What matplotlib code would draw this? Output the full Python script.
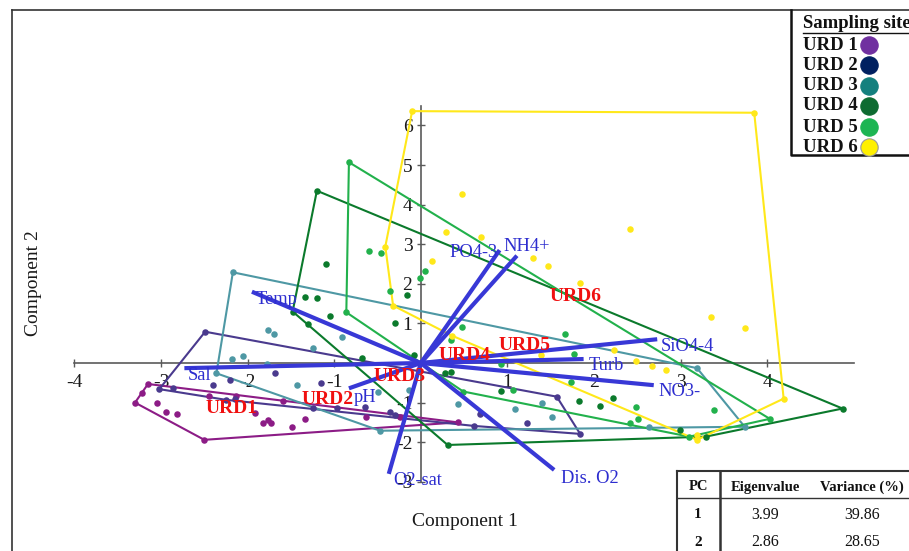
import matplotlib
matplotlib.use("Agg")
import matplotlib.pyplot as plt
from matplotlib.lines import Line2D

plt.rcParams['font.family'] = ['Liberation Serif', 'DejaVu Serif']
plt.rcParams['axes.unicode_minus'] = False

# ---------------- data ----------------
sites = ["URD 1", "URD 2", "URD 3", "URD 4", "URD 5", "URD 6"]
site_tags = ["URD1", "URD2", "URD3", "URD4", "URD5", "URD6"]

urd1_x = [-3.30, -3.15, -3.22, -3.05, -2.94, -2.82, -2.50, -2.44, -2.13, -1.91,
          -1.82, -1.76, -1.73, -1.49, -1.34, -1.59, -0.63, -0.24, 0.43]
urd1_y = [-1.00, -0.53, -0.77, -1.00, -1.24, -1.30, -1.94, -0.83, -0.83, -1.26,
          -1.51, -1.44, -1.51, -1.61, -1.42, -0.96, -1.36, -1.36, -1.50]

urd2_x = [-2.49, -3.02, -2.86, -2.40, -2.20, -1.68, -1.15, -2.25, -2.15, -1.24,
          -0.97, -0.65, -0.36, -0.30, 0.62, 0.68, 1.23, 1.57, 1.84]
urd2_y = [0.79, -0.66, -0.64, -0.56, -0.43, -0.26, -0.51, -0.93, -0.91, -1.14,
          -1.14, -1.10, -1.23, -1.31, -1.59, -1.29, -1.51, -0.85, -1.79]

urd3_x = [-2.17, 3.19, 3.74, -0.47, -2.36, -1.77, -1.70, -1.24, -0.91, -2.18,
          -2.05, -1.78, -1.43, -0.49, -0.14, 0.43, 1.09, 1.40, 1.51, 2.63]
urd3_y = [2.29, -0.13, -1.61, -1.71, -0.26, 0.83, 0.73, 0.37, 0.66, 0.09,
          0.18, -0.03, -0.56, -0.72, -0.68, -1.04, -1.17, -1.00, -1.37, -1.62]

urd4_x = [-1.20, -1.48, 0.31, 3.29, 4.87, -1.10, -1.34, -1.20, -0.16, -1.05,
          -1.30, -0.30, -0.68, -0.08, 0.28, 0.35, 0.93, 1.83, 2.07, 2.22, 2.99]
urd4_y = [4.35, 1.30, -2.07, -1.86, -1.15, 2.49, 1.67, 1.65, 1.72, 1.19,
          0.98, 1.02, 0.12, 0.20, -0.24, -0.22, -0.71, -0.96, -1.09, -0.88, -1.69]

urd5_x = [-0.83, -0.86, 0.49, 3.10, 4.03, -0.60, -0.46, -0.36, 0.05, -0.01,
          0.48, 0.35, 1.66, 1.77, 0.93, 1.74, 1.07, 2.48, 2.51, 2.42, 3.39]
urd5_y = [5.07, 1.28, -0.72, -1.86, -1.41, 2.84, 2.79, 1.82, 2.32, 2.15,
          0.90, 0.58, 0.73, 0.22, -0.03, -0.49, -0.68, -1.10, -1.41, -1.52, -1.19]

urd6_x = [-0.10, 3.85, 4.19, 3.19, 3.19, -0.32, -0.41, 0.47, 0.29, 0.70, 0.13,
          1.30, 1.47, 2.42, 1.84, 3.35, 3.74, 2.23, 2.49, 2.67, 2.83, 1.39, 0.36]
urd6_y = [6.36, 6.32, -0.90, -1.94, -1.82, 1.45, 2.94, 4.27, 3.32, 3.19, 2.58,
          2.64, 2.45, 3.38, 2.01, 1.15, 0.88, 0.33, 0.06, -0.08, -0.18, 0.21, 0.69]

site_points = [(urd1_x, urd1_y), (urd2_x, urd2_y), (urd3_x, urd3_y),
               (urd4_x, urd4_y), (urd5_x, urd5_y), (urd6_x, urd6_y)]

# centroid label positions of each site
centroid_x = [-2.19, -1.08, -0.25, 0.50, 1.20, 1.79]
centroid_y = [-1.16, -0.91, -0.35, 0.20, 0.45, 1.69]

# variable loadings
variables = ["Temp", "Sal", "pH", "O2-sat", "Dis. O2", "NO3-", "Turb", "SiO4-4", "NH4+", "PO4-3"]
load_x = [-1.95, -2.73, -0.83, -0.37, 1.54, 2.69, 1.88, 2.73, 1.11, 0.91]
load_y = [1.80, -0.13, -0.64, -2.80, -2.70, -0.56, 0.10, 0.60, 2.71, 2.85]

# eigen table
pcs = ["1", "2"]
eigenvalues = ["3.99", "2.86"]
variances = ["39.86", "28.65"]

# ---------------- styles ----------------
plot_colors = ["#8C1C86", "#4A3A8E", "#4E98A4", "#0B7A2C", "#22B14C", "#FFE81A"]
legend_colors = ["#7030A0", "#002060", "#14807E", "#0E6B31", "#1DB553", "#FFF000"]
vec_color = "#3838D6"
lab_color = "#2D2DCF"
site_lab_color = "#F01010"

# label offsets in pixels relative to the loading tip
lab_offsets = {"Temp": (4, -8, 'left'), "Sal": (3, -7, 'left'), "pH": (5, -9, 'left'),
               "O2-sat": (4, -7, 'left'), "Dis. O2": (7, -9, 'left'),
               "NO3-": (5, -6, 'left'), "Turb": (5, -6, 'left'),
               "SiO4-4": (4, -7, 'left'), "NH4+": (-14, 9, 'left'),
               "PO4-3": (-2, -2, 'right')}


def convex_hull(xs, ys):
    pts = sorted(set(zip(xs, ys)))

    def cross(o, a, b):
        return (a[0] - o[0]) * (b[1] - o[1]) - (a[1] - o[1]) * (b[0] - o[0])

    lower, upper = [], []
    for p in pts:
        while len(lower) >= 2 and cross(lower[-2], lower[-1], p) <= 0:
            lower.pop()
        lower.append(p)
    for p in reversed(pts):
        while len(upper) >= 2 and cross(upper[-2], upper[-1], p) <= 0:
            upper.pop()
        upper.append(p)
    hull = lower[:-1] + upper[:-1]
    hull.append(hull[0])
    return [p[0] for p in hull], [p[1] for p in hull]


W, H = 909, 551
fig = plt.figure(figsize=(W / 100, H / 100), dpi=100)
ax = fig.add_axes([0, 0, 1, 1])
x0, sx = 420.8, 86.6
y0, sy = 363.0, 39.6
ax.set_xlim((0 - x0) / sx, (W - x0) / sx)
ax.set_ylim((y0 - H) / sy, y0 / sy)
ax.patch.set_alpha(0)

# axes crossing at origin
for side in ["top", "right"]:
    ax.spines[side].set_visible(False)
ax.spines["bottom"].set_position(("data", 0))
ax.spines["left"].set_position(("data", 0))
ax.spines["bottom"].set_bounds(-4, 5.0)
ax.spines["left"].set_bounds(-3, 6.5)
for side in ["bottom", "left"]:
    ax.spines[side].set_color("#5a5a5a")
    ax.spines[side].set_linewidth(1.2)
    ax.spines[side].set_zorder(1)

xt = [-4, -3, -2, -1, 1, 2, 3, 4]
yt = [-3, -2, -1, 1, 2, 3, 4, 5, 6]
ax.set_xticks(xt)
ax.set_xticklabels([str(v) for v in xt])
ax.set_yticks(yt)
ax.set_yticklabels([str(v) for v in yt])
ax.tick_params(axis="both", direction="inout", length=6, width=1, color="#5a5a5a",
               labelsize=14, labelcolor="#1a1a1a")
ax.tick_params(axis="x", pad=5)
ax.tick_params(axis="y", pad=3)

# hulls and points
for (xs, ys), c in zip(site_points, plot_colors):
    hx, hy = convex_hull(xs, ys)
    ax.plot(hx, hy, color=c, lw=1.5, zorder=2)
    ax.scatter(xs, ys, s=22, color=c, zorder=3, linewidths=0)

# loading vectors
for name, lx, ly in zip(variables, load_x, load_y):
    ax.plot([0, lx], [0, ly], color=vec_color, lw=3.0, solid_capstyle="butt", zorder=4)
    dx, dy, ha = lab_offsets[name]
    ax.annotate(name, (lx, ly), xytext=(dx, dy), textcoords="offset pixels",
                ha=ha, va="center", color=lab_color, fontsize=13.3, zorder=5)

# site labels
for tag, cx, cy in zip(site_tags, centroid_x, centroid_y):
    ax.text(cx, cy, tag, color=site_lab_color, fontsize=14, fontweight="bold",
            ha="center", va="center", zorder=6)

# axis titles
fig.text(465 / W, 1 - 521 / H, "Component 1", ha="center", va="center",
         fontsize=14, color="#1a1a1a")
fig.text(33 / W, 1 - 283 / H, "Component 2", ha="center", va="center",
         rotation=90, fontsize=14, color="#1a1a1a")


def fx(px):
    return px / W


def fy(py):
    return 1 - py / H


# outer frame (top and left edges)
fig.add_artist(Line2D([fx(12), fx(909)], [fy(10), fy(10)], color="#333333", lw=1.2))
fig.add_artist(Line2D([fx(12), fx(12)], [fy(10), fy(551)], color="#333333", lw=1.2))

# legend box
fig.add_artist(Line2D([fx(791), fx(791), fx(909)], [fy(10), fy(155), fy(155)],
                      color="#111111", lw=1.8))
fig.text(fx(803), fy(24), "Sampling site", fontsize=13.5, fontweight="bold",
         ha="left", va="center", color="#111111")
fig.add_artist(Line2D([fx(803), fx(909)], [fy(33), fy(33)], color="#111111", lw=1.0))
leg_rows = [45, 65, 86, 106, 127, 147]
for lab, c, ry in zip(sites, legend_colors, leg_rows):
    fig.text(fx(803), fy(ry), lab, fontsize=13.5, fontweight="bold",
             ha="left", va="center", color="#111111")
    fig.add_artist(Line2D([fx(869)], [fy(ry)], marker="o", markersize=12.5,
                          markerfacecolor=c, markeredgecolor="#9a9a9a" if c == "#FFF000" else c,
                          markeredgewidth=0.8, linestyle="none"))

# eigenvalue table
tcol = "#333333"
fig.add_artist(Line2D([fx(677), fx(909)], [fy(471), fy(471)], color=tcol, lw=1.5))
fig.add_artist(Line2D([fx(677), fx(909)], [fy(498), fy(498)], color=tcol, lw=1.0))
fig.add_artist(Line2D([fx(677), fx(677)], [fy(471), fy(551)], color=tcol, lw=1.5))
fig.add_artist(Line2D([fx(720), fx(720)], [fy(471), fy(551)], color=tcol, lw=1.8))
col_x = [698, 765, 862]
headers = ["PC", "Eigenvalue", "Variance (%)"]
for hx, h in zip(col_x, headers):
    fig.text(fx(hx), fy(487), h, fontsize=10.5, fontweight="bold",
             ha="center", va="center", color="#111111")
for row_y, pc, ev, vr in zip([515, 542], pcs, eigenvalues, variances):
    fig.text(fx(col_x[0]), fy(row_y), pc, fontsize=11, fontweight="bold",
             ha="center", va="center", color="#111111")
    fig.text(fx(col_x[1]), fy(row_y), ev, fontsize=11.5, ha="center", va="center",
             color="#111111")
    fig.text(fx(col_x[2]), fy(row_y), vr, fontsize=11.5, ha="center", va="center",
             color="#111111")

fig.savefig("out.png", dpi=100)
